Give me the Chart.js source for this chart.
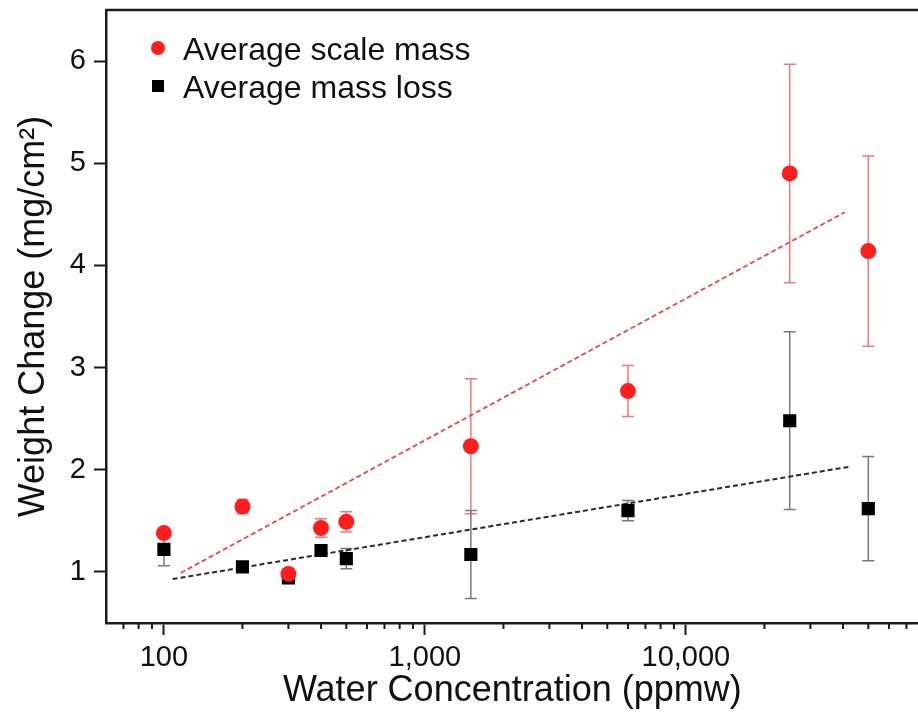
<!DOCTYPE html>
<html>
<head>
<meta charset="utf-8">
<script src="https://cdn.jsdelivr.net/npm/chart.js@4/dist/chart.umd.min.js"></script>
<style>
  html, body { margin: 0; padding: 0; background: #fff; overflow: hidden; }
  #wrap { width: 928px; height: 717px; position: relative; }
</style>
</head>
<body>
<div id="wrap"><canvas id="chart"></canvas></div>
<script>
// water content of each test (ppmw)
const waterPpmw = [100, 200, 300, 400, 500, 1500, 6000, 25000, 50000];

// average scale mass and its spread (mg/cm2)
const scaleMass = [1.38, 1.64, 0.98, 1.43, 1.49, 2.23, 2.77, 4.90, 4.14];
const scaleMassErr = [0.03, 0.07, 0.03, 0.09, 0.10, 0.66, 0.25, 1.07, 0.93];

// average mass loss and its spread (mg/cm2)
const massLoss = [1.22, 1.05, 0.94, 1.21, 1.13, 1.17, 1.60, 2.48, 1.62];
const massLossErr = [0.16, 0.02, 0.03, 0.03, 0.10, 0.43, 0.10, 0.87, 0.51];

// ends of the two dashed fit lines
const scaleFitX = [116, 40600];
const scaleFitY = [0.99, 4.52];
const lossFitX = [108, 42400];
const lossFitY = [0.93, 2.03];

// axis ticks
const xMajorTicks = [100, 1000, 10000];
const xMinorTicks = [60, 70, 80, 90, 200, 300, 400, 500, 600, 700, 800, 900,
  2000, 3000, 4000, 5000, 6000, 7000, 8000, 9000,
  20000, 30000, 40000, 50000, 60000, 70000];
const yTicks = [1, 2, 3, 4, 5, 6];

const FONT = "'Liberation Sans', Arial, Helvetica, sans-serif";
const RED = "#ff1e1e";
const AXIS = "#1a1a1a";

const toPoints = (xs, ys) => xs.map((x, i) => ({ x: x, y: ys[i] }));

// error bars drawn from the data through the chart scales
const errorBars = {
  id: "errorBars",
  beforeDatasetsDraw(chart) {
    const { ctx, scales } = chart;
    chart.data.datasets.forEach((ds, di) => {
      if (!ds.errors) return;
      ctx.save();
      ctx.strokeStyle = ds.errorColor;
      ctx.lineWidth = 1.5;
      ds.data.forEach((p, i) => {
        const x = scales.x.getPixelForValue(p.x);
        const yTop = scales.y.getPixelForValue(p.y + ds.errors[i]);
        const yBot = scales.y.getPixelForValue(p.y - ds.errors[i]);
        ctx.beginPath();
        ctx.moveTo(x, yTop); ctx.lineTo(x, yBot);
        ctx.moveTo(x - 6, yTop); ctx.lineTo(x + 6, yTop);
        ctx.moveTo(x - 6, yBot); ctx.lineTo(x + 6, yBot);
        ctx.stroke();
      });
      ctx.restore();
    });
  }
};

// top frame line, minor log ticks and the legend
const frame = {
  id: "frame",
  afterDraw(chart) {
    const { ctx, chartArea: a, scales } = chart;
    ctx.save();
    ctx.strokeStyle = AXIS;
    ctx.lineWidth = 2.5;
    ctx.beginPath();
    ctx.moveTo(a.left - 1, a.top);
    ctx.lineTo(chart.width, a.top);
    ctx.stroke();

    ctx.lineWidth = 2;
    ctx.beginPath();
    xMinorTicks.forEach(v => {
      const x = scales.x.getPixelForValue(v);
      if (x <= a.left + 1 || x > a.right) return;
      ctx.moveTo(x, a.bottom);
      ctx.lineTo(x, a.bottom + 6);
    });
    ctx.stroke();

    // legend
    const items = chart.data.datasets.filter(d => d.inLegend);
    ctx.font = "32px " + FONT;
    ctx.textBaseline = "alphabetic";
    items.forEach((d, i) => {
      const cy = 48 + i * 38;
      ctx.fillStyle = d.backgroundColor;
      if (d.pointStyle === "circle") {
        ctx.beginPath();
        ctx.arc(158, cy, 7, 0, Math.PI * 2);
        ctx.fill();
      } else {
        ctx.fillRect(152, cy - 6, 12, 12);
      }
      ctx.fillStyle = "#111";
      ctx.fillText(d.label, 183, cy + 12);
    });
    ctx.restore();
  }
};

new Chart(document.getElementById("chart"), {
  type: "scatter",
  plugins: [errorBars, frame],
  data: {
    datasets: [
      {
        label: "Average scale mass",
        inLegend: true,
        data: toPoints(waterPpmw, scaleMass),
        errors: scaleMassErr,
        errorColor: "rgba(238, 96, 96, 0.85)",
        pointStyle: "circle",
        pointRadius: 8,
        pointHoverRadius: 8,
        backgroundColor: RED,
        borderColor: RED,
        borderWidth: 0
      },
      {
        label: "Average mass loss",
        inLegend: true,
        data: toPoints(waterPpmw, massLoss),
        errors: massLossErr,
        errorColor: "#7a7a7a",
        pointStyle: "rect",
        pointRadius: 9.3,
        pointHoverRadius: 9.3,
        backgroundColor: "#000",
        borderColor: "#000",
        borderWidth: 0
      },
      {
        type: "line",
        label: "scale fit",
        data: toPoints(scaleFitX, scaleFitY),
        borderColor: "#f04545",
        borderWidth: 1.8,
        borderDash: [5, 3],
        pointRadius: 0,
        fill: false
      },
      {
        type: "line",
        label: "loss fit",
        data: toPoints(lossFitX, lossFitY),
        borderColor: "#2a2a2a",
        borderWidth: 2,
        borderDash: [5, 3],
        pointRadius: 0,
        fill: false
      }
    ]
  },
  options: {
    responsive: true,
    maintainAspectRatio: false,
    animation: false,
    layout: { padding: { top: 10, right: 0, left: 0, bottom: 0 } },
    plugins: {
      legend: { display: false },
      tooltip: { enabled: false }
    },
    scales: {
      x: {
        type: "logarithmic",
        min: 60,
        max: 78000,
        afterFit: s => { s.height = 94; s.paddingLeft = 0; s.paddingRight = 0; },
        afterBuildTicks: s => { s.ticks = xMajorTicks.map(v => ({ value: v })); },
        border: { display: true, color: AXIS, width: 2.5 },
        grid: { drawOnChartArea: false, drawTicks: true, tickLength: 12, tickWidth: 2, tickColor: AXIS },
        ticks: {
          autoSkip: false,
          maxRotation: 0,
          padding: 6,
          color: "#111",
          font: { family: FONT, size: 29 },
          callback: v => Number(v).toLocaleString("en-US")
        },
        title: {
          display: true,
          text: "Water Concentration (ppmw)",
          color: "#111",
          font: { family: FONT, size: 36 },
          padding: { top: 0, bottom: 4 }
        }
      },
      y: {
        min: 0.5,
        max: 6.5,
        afterFit: s => { s.width = 106; s.paddingTop = 0; s.paddingBottom = 0; },
        afterBuildTicks: s => { s.ticks = yTicks.map(v => ({ value: v })); },
        border: { display: true, color: AXIS, width: 2.5 },
        grid: { drawOnChartArea: false, drawTicks: true, tickLength: 12, tickWidth: 2, tickColor: AXIS },
        ticks: {
          padding: 8,
          color: "#111",
          font: { family: FONT, size: 29 }
        },
        title: {
          display: true,
          text: "Weight Change (mg/cm²)",
          color: "#111",
          font: { family: FONT, size: 36 },
          padding: { top: 12, bottom: 0 }
        }
      }
    }
  }
});
</script>
</body>
</html>
